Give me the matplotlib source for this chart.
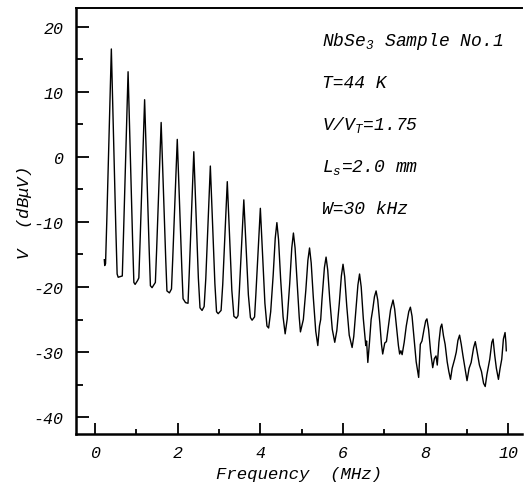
import matplotlib
matplotlib.use("Agg")
import matplotlib.pyplot as plt
from matplotlib.ticker import MultipleLocator

# spectrum trace (frequency in MHz, level in dBuV)
freq_mhz = [
    0.225, 0.235, 0.255, 0.285, 0.395, 0.505, 0.535, 0.56, 0.66, 0.69,
    0.80, 0.91, 0.94, 0.97, 1.03, 1.06, 1.09, 1.20, 1.31, 1.34,
    1.38, 1.44, 1.46, 1.49, 1.60, 1.71, 1.74, 1.80, 1.85, 1.88,
    1.99, 2.10, 2.13, 2.19, 2.25, 2.28, 2.39, 2.50, 2.54, 2.59,
    2.64, 2.68, 2.79, 2.90, 2.94, 2.98, 3.05, 3.09, 3.20, 3.31,
    3.36, 3.42, 3.46, 3.49, 3.60, 3.71, 3.76, 3.80, 3.86, 3.89,
    4.00, 4.11, 4.16, 4.20, 4.25, 4.31, 4.36, 4.40, 4.44, 4.49,
    4.55, 4.60, 4.65, 4.71, 4.76, 4.80, 4.84, 4.89, 4.94, 4.97,
    5.04, 5.10, 5.15, 5.19, 5.23, 5.28, 5.34, 5.39, 5.43, 5.46,
    5.49, 5.55, 5.59, 5.63, 5.68, 5.74, 5.80, 5.85, 5.91, 5.96,
    6.00, 6.04, 6.09, 6.15, 6.22, 6.26, 6.31, 6.36, 6.40, 6.44,
    6.49, 6.55, 6.57, 6.60, 6.64, 6.68, 6.72, 6.76, 6.80, 6.84,
    6.89, 6.93, 6.96, 7.01, 7.05, 7.10, 7.15, 7.21, 7.25, 7.30,
    7.34, 7.37, 7.40, 7.43, 7.48, 7.53, 7.59, 7.63, 7.67, 7.72,
    7.77, 7.83, 7.87, 7.91, 7.96, 8.00, 8.03, 8.07, 8.12, 8.17,
    8.21, 8.25, 8.28, 8.32, 8.36, 8.39, 8.43, 8.47, 8.52, 8.56,
    8.60, 8.64, 8.70, 8.74, 8.78, 8.82, 8.86, 8.90, 8.95, 9.00,
    9.05, 9.10, 9.16, 9.20, 9.24, 9.30, 9.35, 9.40, 9.44, 9.48,
    9.55, 9.60, 9.63, 9.67, 9.71, 9.76, 9.80, 9.84, 9.88, 9.92,
    9.94, 9.95,
]
level_dbuv = [
    -15.8, -16.7, -16.4, -9.8, 16.6, -11.4, -18.0, -18.5, -18.3, -11.8,
    13.1, -13.0, -19.3, -19.6, -19.0, -18.6, -13.1, 8.8, -14.2, -19.8,
    -20.1, -19.5, -19.3, -14.4, 5.3, -15.6, -20.6, -20.9, -20.3, -15.7,
    2.7, -17.1, -21.8, -22.4, -22.5, -17.8, 0.8, -18.6, -23.2, -23.6,
    -23.0, -18.7, -1.4, -19.5, -23.8, -24.1, -23.6, -19.6, -3.8, -20.5,
    -24.5, -24.8, -24.4, -20.8, -6.6, -21.2, -24.7, -25.1, -24.6, -21.3,
    -7.9, -22.5, -26.0, -26.3, -23.8, -18.2, -12.5, -10.1, -12.7, -18.7,
    -24.6, -27.2, -24.9, -19.5, -14.0, -11.7, -14.0, -19.3, -24.6, -26.9,
    -25.0, -20.5, -15.9, -14.0, -16.3, -21.5, -26.8, -29.0, -26.0, -25.0,
    -22.0, -17.0, -15.4, -17.4, -22.0, -26.5, -28.5, -26.7, -22.5, -18.3,
    -16.5, -18.4, -22.9, -27.4, -29.3, -27.6, -23.6, -19.7, -18.0, -20.0,
    -24.8, -29.0, -28.3, -31.6, -28.5, -25.0, -23.4, -21.5, -20.6, -22.0,
    -25.5, -28.8, -30.3, -28.6, -28.4, -26.0, -23.5, -22.0, -23.4, -26.5,
    -29.0, -30.3, -29.8, -30.4, -28.5, -26.0, -23.8, -23.1, -24.5, -28.0,
    -31.5, -33.9, -28.8, -28.3, -26.5, -25.2, -24.9, -26.5, -30.0, -32.4,
    -31.0, -30.6, -32.0, -28.5, -26.2, -25.7, -27.5, -28.8, -31.5, -33.0,
    -34.2, -32.5, -31.1, -30.0, -28.2, -27.4, -28.8, -30.5, -32.5, -34.4,
    -32.5, -31.6, -29.3, -28.4, -29.8, -32.0, -33.0, -34.8, -35.3, -33.5,
    -31.1, -28.5, -28.0, -30.5, -32.5, -34.2, -32.5, -31.1, -28.0, -27.0,
    -28.5, -29.8,
]

x_ticks = [0, 2, 4, 6, 8, 10]
y_ticks = [-40, -30, -20, -10, 0, 10, 20]
notes = [r"NbSe$_3$ Sample No.1", "T=44 K", r"V/V$_T$=1.75",
         r"L$_s$=2.0 mm", "W=30 kHz"]

plt.rcParams["font.family"] = "Liberation Mono"
plt.rcParams["font.style"] = "italic"
plt.rcParams["axes.unicode_minus"] = False
plt.rcParams["mathtext.fontset"] = "custom"
plt.rcParams["mathtext.rm"] = "Liberation Mono:italic"
plt.rcParams["mathtext.it"] = "Liberation Mono:italic"

fig = plt.figure(figsize=(5.25, 4.85), dpi=100)
ax = fig.add_axes([76 / 525, 50 / 485, 446 / 525, 426 / 485])

ax.plot(freq_mhz, level_dbuv, color="black", lw=1.0)

ax.set_xlim(-0.46, 10.33)
ax.set_ylim(-42.6, 22.9)
ax.set_xticks(x_ticks)
ax.set_yticks(y_ticks)
ax.xaxis.set_minor_locator(MultipleLocator(1))
ax.yaxis.set_minor_locator(MultipleLocator(5))

ax.spines["right"].set_visible(False)
ax.spines["left"].set_linewidth(1.8)
ax.spines["bottom"].set_linewidth(1.8)
ax.spines["top"].set_linewidth(1.4)

ax.tick_params(axis="both", which="both", direction="in", width=1.3,
               labelsize=12, top=False, right=False)
ax.tick_params(axis="y", which="major", length=9.5, pad=9)
ax.tick_params(axis="y", which="minor", length=5)
ax.tick_params(axis="x", which="major", length=8, pad=8)
ax.tick_params(axis="x", which="minor", length=3.6)

ax.set_xlabel("Frequency  (MHz)", fontsize=12.5, labelpad=4)
ax.set_ylabel(r"V  (dB$\mu$V)", fontsize=12.5)
ax.yaxis.set_label_coords(-0.095, 0.52)

for i, note in enumerate(notes):
    ax.text(0.552, 0.913 - i * 0.0986, note, transform=ax.transAxes,
            fontsize=13, va="baseline", ha="left")

fig.savefig("out.png", dpi=100)
